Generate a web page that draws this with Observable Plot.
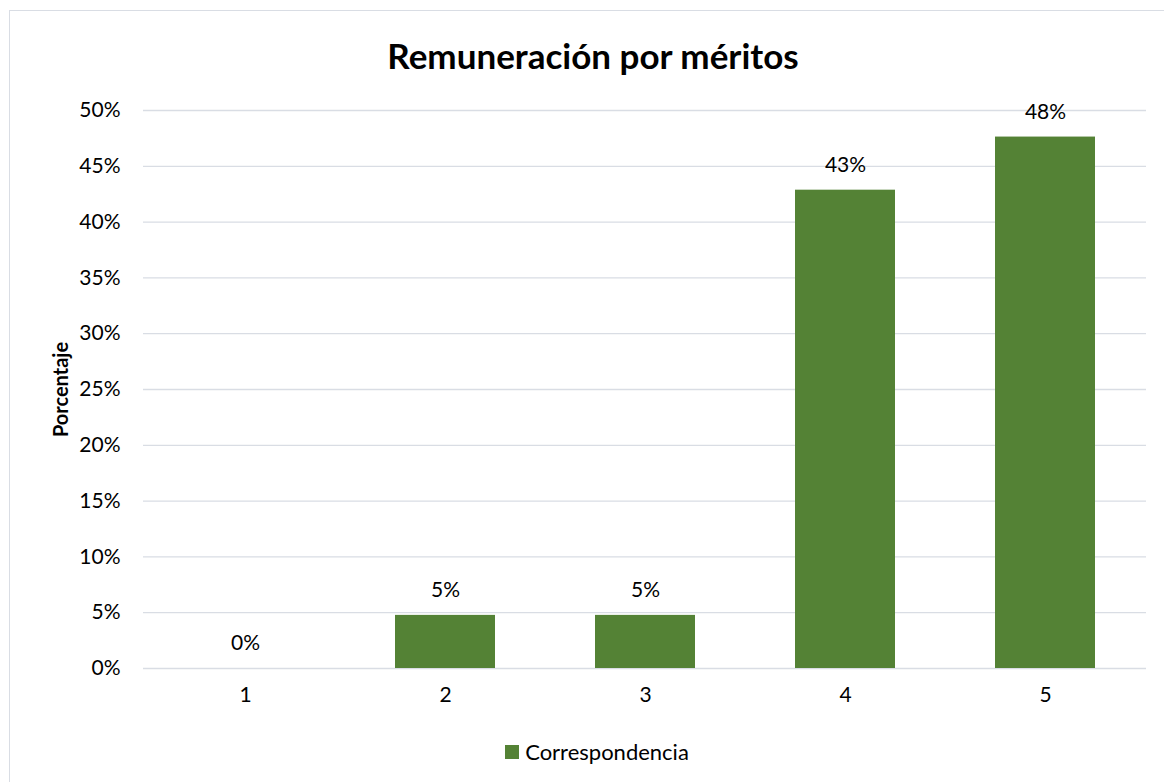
<!DOCTYPE html>
<html>
<head>
<meta charset="utf-8">
<script src="https://cdn.jsdelivr.net/npm/d3@7"></script>
<script src="https://cdn.jsdelivr.net/npm/@observablehq/plot@0.6"></script>
<style>
  html, body { margin: 0; padding: 0; background: #fff; }
  #page { position: relative; width: 1164px; height: 782px; overflow: hidden; font-family: Lato, "Open Sans", sans-serif; color: #000; }
  #frame { position: absolute; left: 9px; top: 10px; width: 1170px; height: 790px; border: 1px solid #d9dde4; box-sizing: border-box; }
  #title { position: absolute; left: 11px; top: 34px; width: 1164px; text-align: center; font-weight: bold; font-size: 35px; line-height: 42px; }
  #chart { position: absolute; left: 0; top: 80px; }
  #legend { position: absolute; left: 15px; top: 739px; width: 1164px; display: flex; justify-content: center; align-items: center; font-size: 22px; line-height: 26px; }
  #legend .sw { width: 14px; height: 14px; background: #548235; margin-right: 6px; }
</style>
</head>
<body>
<div id="page">
  <div id="frame"></div>
  <div id="title">Remuneración por méritos</div>
  <div id="chart"></div>
  <div id="legend"><span class="sw"></span><span>Correspondencia</span></div>
</div>
<script>
const categories = ["1", "2", "3", "4", "5"];
const values = [0, 0.0476, 0.0476, 0.4286, 0.4762];
const yTicks = [0, 0.05, 0.10, 0.15, 0.20, 0.25, 0.30, 0.35, 0.40, 0.45, 0.50];
const seriesName = "Correspondencia";
const barColor = "#548235";

const data = categories.map((c, i) => ({category: c, value: values[i], series: seriesName}));
const pct = d3.format(".0%");

const chart = Plot.plot({
  width: 1164,
  height: 640,
  marginTop: 30,
  marginBottom: 52,
  marginLeft: 143,
  marginRight: 18,
  style: { fontFamily: "Lato, 'Open Sans', sans-serif", fontSize: "21px", color: "#000", background: "transparent" },
  x: { domain: categories, paddingInner: 0.5, paddingOuter: 0.25, label: null, tickSize: 0, tickPadding: 20 },
  y: { domain: [0, 0.5], ticks: yTicks, tickFormat: pct, label: "Porcentaje", labelAnchor: "center", labelArrow: "none", labelOffset: 90, tickSize: 0, tickPadding: 23 },
  marks: [
    Plot.gridY(yTicks, { stroke: "#d9dde4", strokeOpacity: 1, strokeWidth: 1.3 }),
    Plot.barY(data, { x: "category", y: "value", fill: barColor }),
    Plot.text(data, { x: "category", y: "value", text: d => pct(d.value), dy: -25, fill: "#000", fontSize: 21, lineAnchor: "middle" }),
    Plot.axisX({ tickSize: 0, tickPadding: 19, fontSize: 21 }),
    Plot.axisY({ ticks: yTicks, tickFormat: pct, tickSize: 0, tickPadding: 23, label: "Porcentaje", labelAnchor: "center", labelArrow: "none", labelOffset: 90, fontSize: 21 })
  ]
});
document.getElementById("chart").appendChild(chart);
chart.querySelectorAll("[aria-label='y-axis label'] text").forEach(t => { t.style.fontWeight = "bold"; t.style.fontSize = "20px"; });
</script>
</body>
</html>
